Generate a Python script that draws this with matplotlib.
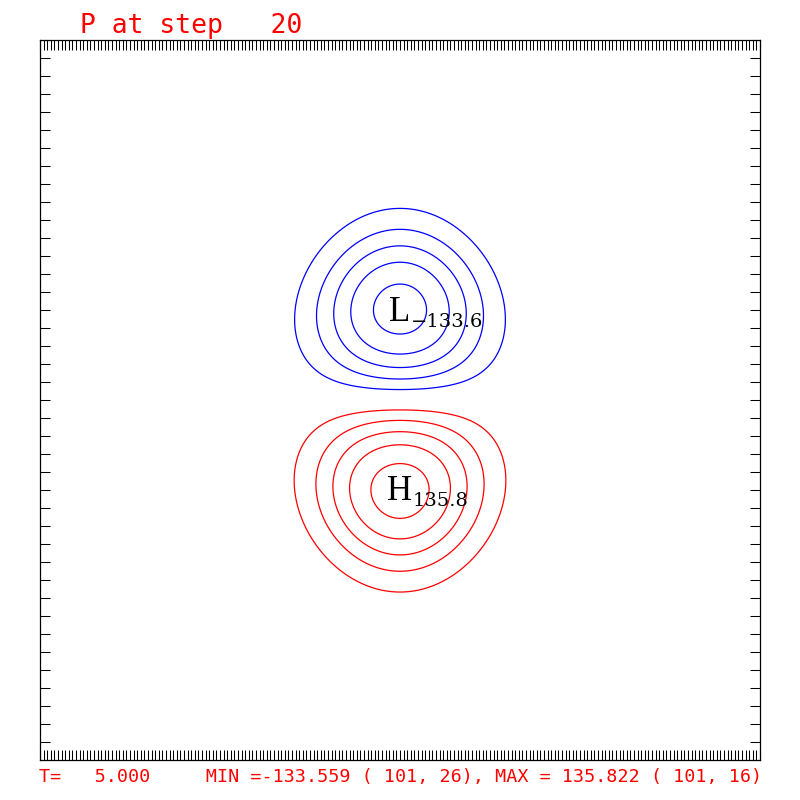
# campo de pressao P (dipolo) - contornos
import numpy as np
import matplotlib.pyplot as plt

# grade do modelo
nx, ny = 201, 41

# centros dos dois nucleos (indices da grade) e amplitudes
centro_L = (101, 26)
centro_H = (101, 16)
amp_L = -134.5
amp_H = 136.75
sigma_x = 17.2      # largura em x (pontos de grade)
sigma_y = 3.33      # largura em y
expoente = 2.3      # perfil um pouco mais achatado que gaussiano
assimetria = 0.06   # nucleo mais largo do lado do outro nucleo

niveis_neg = [-125, -100, -75, -50, -25]
niveis_pos = [25, 50, 75, 100, 125]

titulo = 'P at step   20'
rodape = 'T=   5.000     MIN =-133.559 ( 101, 26), MAX = 135.822 ( 101, 16)'
rotulo_L = ('L', '\u2212133.6')
rotulo_H = ('H', '135.8')


def nucleo(x, y, c, amp, lado):
    dy = (y - c[1]) / sigma_y
    sx = sigma_x * np.clip(1 + lado * assimetria * dy, 0.7, 1.3)
    r2 = ((x - c[0]) / sx)**2 + dy**2
    return amp * np.exp(-0.5 * r2**(expoente / 2))


x, y = np.meshgrid(np.linspace(1, nx, 801), np.linspace(1, ny, 321))
p = nucleo(x, y, centro_L, amp_L, -1) + nucleo(x, y, centro_H, amp_H, 1)

fig = plt.figure(figsize=(8, 8), dpi=100)
ax = fig.add_axes([0.05, 0.05, 0.9, 0.9])

ax.contour(x, y, p, levels=niveis_neg, colors='#0000ff', linewidths=0.9, linestyles='solid')
ax.contour(x, y, p, levels=niveis_pos, colors='#ff0000', linewidths=0.9, linestyles='solid')

ax.set_xlim(1, nx)
ax.set_ylim(1, ny)
ax.set_xticks(np.arange(1, nx + 1))
ax.set_yticks(np.arange(1, ny + 1))
ax.tick_params(direction='in', length=7.2, width=0.75, top=True, right=True,
               labelbottom=False, labelleft=False)
for s in ax.spines.values():
    s.set_linewidth(0.9)

# rotulos L / H com o valor extremo
ax.text(centro_L[0], 25.39, rotulo_L[0], ha='center', va='baseline', fontsize=25, family='Liberation Serif')
ax.text(104.0, 25.05, rotulo_L[1], ha='left', va='baseline', fontsize=14, family='DejaVu Serif')
ax.text(centro_H[0], 15.44, rotulo_H[0], ha='center', va='baseline', fontsize=25, family='Liberation Serif')
ax.text(104.6, 15.1, rotulo_H[1], ha='left', va='baseline', fontsize=14, family='DejaVu Serif')

fig.text(0.1, 0.959, titulo, color='#ff0000', fontsize=19, family='DejaVu Sans Mono', va='baseline')
fig.text(0.049, 0.0225, rodape, color='#ff0000', fontsize=13.2, family='DejaVu Sans Mono', va='baseline')

plt.savefig('out.png')
